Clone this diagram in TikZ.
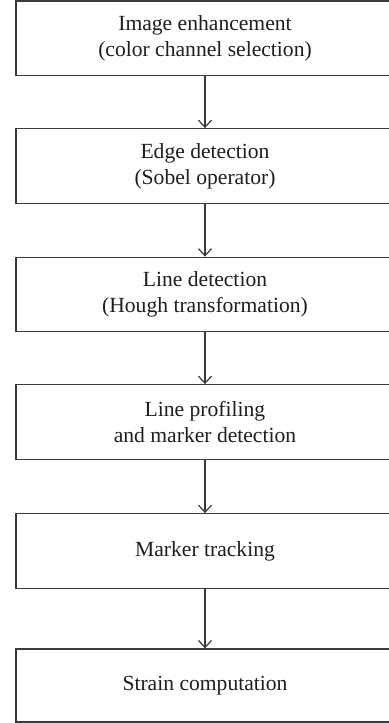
\documentclass[tikz,border=0pt]{standalone}
\usepackage{fontspec}
\setmainfont{Liberation Serif}
\usetikzlibrary{arrows.meta}
\definecolor{edge}{HTML}{3A3A3A}
\definecolor{ink}{HTML}{1E1E1E}
\tikzset{
  stepbox/.style={draw=edge, line width=0.65pt, rectangle, inner sep=0pt,
    minimum width=189pt, minimum height=37.25pt, align=center,
    text=ink, font=\fontsize{10.8}{13}\selectfont},
  flow/.style={draw=edge, line width=0.6pt, -{Straight Barb[length=3.5pt,width=6.5pt]}}
}
\begin{document}
\begin{tikzpicture}[x=0.5pt,y=-0.5pt]
\useasboundingbox (0,0) rectangle (388,723);
\node[stepbox] (b1) at (205,38.25) {Image enhancement\\(color channel selection)};
\node[stepbox] (b2) at (205,166) {Edge detection\\(Sobel operator)};
\node[stepbox] (b3) at (205,294.5) {Line detection\\(Hough transformation)};
\node[stepbox] (b4) at (205,422) {Line profiling\\and marker detection};
\node[stepbox] (b5) at (205,551) {Marker tracking};
\node[stepbox, minimum height=36.5pt] (b6) at (205,685.5) {Strain computation};
\draw[flow] (b1.south) -- (b2.north);
\draw[flow] (b2.south) -- (b3.north);
\draw[flow] (b3.south) -- (b4.north);
\draw[flow] (b4.south) -- (b5.north);
\draw[flow] (b5.south) -- (b6.north);
\end{tikzpicture}
\end{document}
